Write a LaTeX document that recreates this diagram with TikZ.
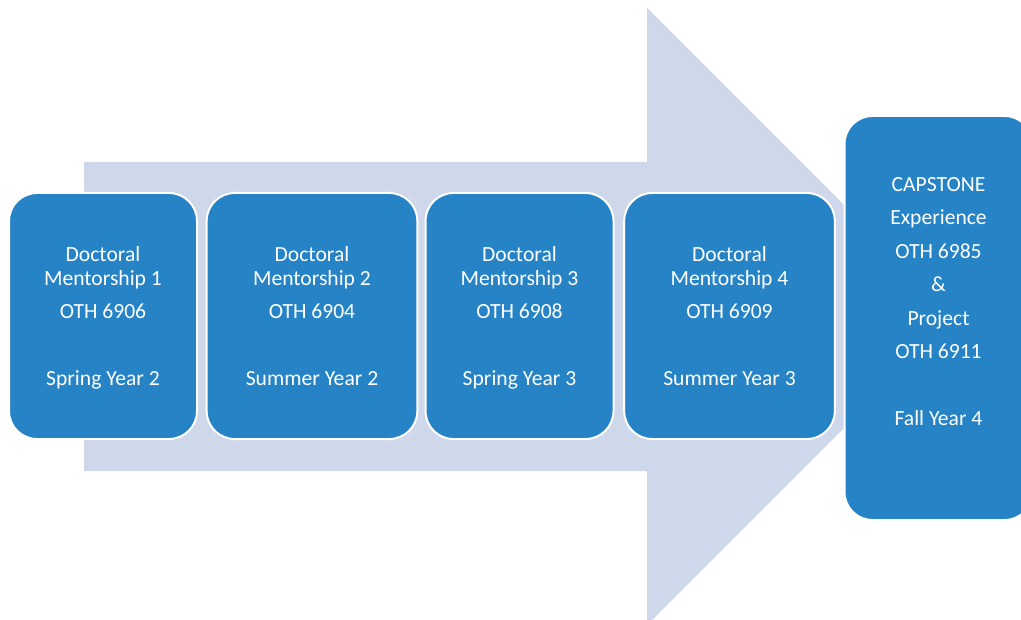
\documentclass[tikz,border=0pt]{standalone}
\usepackage{fontspec}
\setmainfont{Carlito}
\definecolor{courseblue}{RGB}{38,131,198}
\definecolor{arrowgrey}{RGB}{207,216,234}
\newcommand{\ParGap}{\\[7.3pt]}
\newcommand{\BlankGap}{\\[32.2pt]}
\newcommand{\Term}[1]{\raisebox{0pt}[\height][0pt]{#1}}
\tikzset{
  course/.style={draw=white, line width=1.5pt, fill=courseblue,
    rounded corners=21pt, text=white, align=center, inner sep=0pt,
    font=\fontsize{16.2}{17.8}\selectfont, minimum height=184.5pt},
  narrow/.style={course, minimum width=141pt},
  wide/.style={course, minimum width=158pt}
}

\begin{document}
\begin{tikzpicture}[x=0.75pt,y=-0.75pt]
    \useasboundingbox (0,0) rectangle (1021,620);
    \clip (0,0) rectangle (1021,620);
    \fill[arrowgrey] (84,162) -- (647,162) -- (647,8) -- (955.5,316.5) --
      (647,625) -- (647,471) -- (84,471) -- cycle;
    \node[narrow] (dm1) at (103,316) {Doctoral\\Mentorship 1\ParGap OTH 6906\BlankGap \Term{Spring Year 2}};
    \node[wide] (dm2) at (312,316) {Doctoral\\Mentorship 2\ParGap OTH 6904\BlankGap \Term{Summer Year 2}};
    \node[narrow] (dm3) at (519.5,316) {Doctoral\\Mentorship 3\ParGap OTH 6908\BlankGap \Term{Spring Year 3}};
    \node[wide] (dm4) at (729.5,316) {Doctoral\\Mentorship 4\ParGap OTH 6909\BlankGap \Term{Summer Year 3}};
    \node[narrow, minimum height=303pt] (capstone) at (938.5,318)
      {CAPSTONE\ParGap Experience\ParGap OTH 6985\ParGap \&\ParGap Project\ParGap OTH 6911\BlankGap Fall Year 4\ParGap\mbox{}};
  \end{tikzpicture}
\end{document}
